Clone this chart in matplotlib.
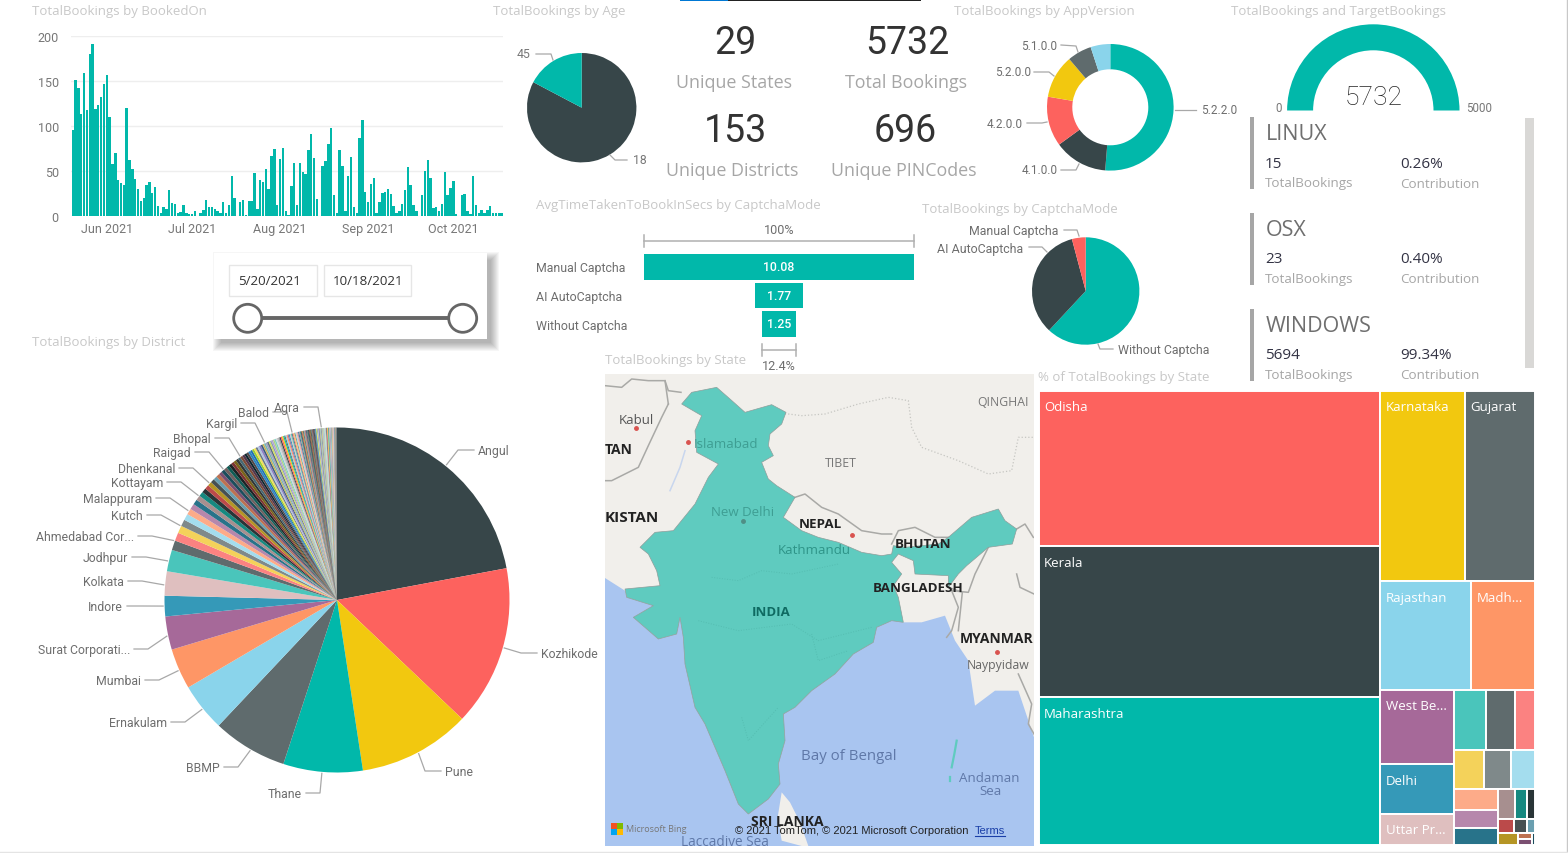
import numpy as np
import pandas as pd
import matplotlib
matplotlib.use("Agg")
import matplotlib.pyplot as plt
from matplotlib.patches import Rectangle, Circle, Wedge

W, H = 1568, 854
TEAL, DARK, CORAL, YELLOW, GREY = "#01B8AA", "#374649", "#FD625E", "#F2C80F", "#5F6B6D"
LBLUE, ORANGE, PURPLE, BLUE, PINK = "#8AD4EB", "#FE9666", "#A66999", "#3599B8", "#DFBFBF"

# daily bookings 20 May - 18 Oct 2021
daily_bookings = [95, 151, 142, 113, 158, 118, 179, 191, 119, 123,
                  132, 146, 156, 110, 58, 70, 40, 37, 34, 120,
                  62, 52, 41, 30, 17, 20, 35, 38, 26, 32,
                  11, 3, 10, 8, 29, 15, 14, 3, 5, 12,
                  3, 2, 2, 6, 0, 3, 7, 18, 10, 10,
                  8, 6, 3, 16, 4, 12, 44, 20, 0, 16,
                  18, 1, 17, 17, 48, 8, 40, 38, 52, 30,
                  67, 74, 12, 63, 76, 6, 1, 33, 59, 12,
                  59, 49, 47, 73, 91, 64, 19, 0, 56, 61,
                  80, 98, 24, 4, 73, 56, 6, 44, 66, 10,
                  4, 86, 107, 27, 16, 36, 42, 4, 16, 26,
                  27, 30, 25, 11, 4, 6, 14, 29, 54, 34,
                  12, 6, 0, 24, 50, 62, 42, 9, 10, 6,
                  14, 49, 23, 31, 39, 2, 0, 24, 25, 6,
                  2, 45, 12, 3, 7, 3, 7, 11, 4, 3,
                  3, 3]
bar_ticks = [0, 50, 100, 150, 200]

age_labels = ["18", "45"]
age_values = [4742, 990]

app_versions = ["5.2.2.0", "4.1.0.0", "4.2.0.0", "5.2.0.0", "5.1.0.0", "other"]
app_values = [2940, 785, 728, 636, 355, 288]

captcha_modes = ["Manual Captcha", "AI AutoCaptcha", "Without Captcha"]
captcha_secs = [10.08, 1.77, 1.25]
captcha_pie_values = [3550, 1945, 237]  # without, ai, manual

kpi_values = ["29", "5732", "153", "696"]
kpi_names = ["Unique States", "Total Bookings", "Unique Districts", "Unique PINCodes"]

os_names = ["LINUX", "OSX", "WINDOWS"]
os_bookings = ["15", "23", "5694"]
os_contrib = ["0.26%", "0.40%", "99.34%"]

gauge_value = 5732
gauge_max = 5000

district_head = [1260, 860, 600, 425, 400, 258, 218, 178, 110, 130, 115]
district_tail = [52, 44, 40, 36, 34, 32, 30, 28, 26, 25, 24, 23, 22, 21, 20, 19, 18, 18, 17, 16,
                 16, 15, 15, 14, 14, 13, 13, 12, 12, 12, 11, 11, 11, 10, 10, 10, 10, 9, 9, 9,
                 9, 8, 8, 8, 8, 8, 7, 7, 7, 7, 7, 7, 6, 6, 6, 6, 6, 6, 6, 5,
                 5, 5, 5, 5, 5, 5, 5, 5, 5,
                 4, 4, 4, 4, 4, 4, 4, 4, 4, 4, 4, 4, 4, 4, 4, 4, 4, 4, 4, 4,
                 3, 3, 3, 3, 3, 3, 3, 3, 3, 3, 3, 3, 3, 3, 3, 3, 3, 3, 3, 3, 3, 3, 3, 3, 3,
                 2, 2, 2, 2, 2, 2, 2, 2, 2, 2, 2, 2, 2, 2, 2,
                 1, 1, 1, 1, 1, 1, 1, 1, 1, 1, 1, 1]
district_colors = [DARK, CORAL, YELLOW, TEAL, GREY, LBLUE, ORANGE, PURPLE, BLUE, PINK,
                   "#4AC5BB", "#5F6B6D", "#FB8281", "#F4D25A", "#7F898A", "#A4DDEE", "#FDAB89", "#B687AC",
                   "#28738A", "#A78F8F", "#168980", "#293537", "#BB4A4A", "#B59525", "#475052", "#6A9FB0",
                   "#BD7150", "#7B4F71", "#1B4D5C", "#706060", "#0F5C55", "#1C2325", "#7D3231", "#796419",
                   "#303637", "#476A75", "#7E4B36", "#52354C", "#0D262E", "#544848",
                   "#2E86C1", "#1F6FB5", "#9ACD32", "#F1E05A", "#6C7A89", "#B0C4DE", "#8E7CC3", "#3D5A80",
                   "#C9B458", "#76B7B2", "#A0A0C0", "#5D6D7E", "#D4E157", "#90A4AE", "#B39DDB", "#AED581",
                   "#80CBC4", "#CFD8DC", "#BDBDBD", "#9E9E9E"]

# label, text edge x, text y, angle clockwise from top where the leader hits the pie
district_labels = ["Angul", "Kozhikode", "Pune", "Thane", "BBMP", "Ernakulam", "Mumbai", "Surat Corporati...",
                   "Indore", "Kolkata", "Jodhpur", "Ahmedabad Cor...", "Kutch", "Malappuram", "Kottayam",
                   "Dhenkanal", "Raigad", "Bhopal", "Kargil", "Balod", "Agra"]
label_edge_x = [478, 541, 445, 302, 220, 167, 141, 130, 123, 124, 128, 134, 143, 152, 163, 175, 191, 211, 237, 269, 300]
label_y = [450, 653, 771, 793, 767, 722, 680, 649, 606, 581, 557, 536, 515, 498, 482, 468, 452, 438, 423, 412, 407]
label_deg = [39, 106, 152, 185, 210, 231, 246, 258, 268, 275, 283, 290, 295.4, 301, 307, 312.5, 319, 326, 335.3, 345, 354.8]

state_names = ["Odisha", "Kerala", "Maharashtra", "Karnataka", "Gujarat", "Rajasthan", "Madh...",
               "West Be...", "Delhi", "Uttar Pr..."]
state_values = [1351, 1307, 1280, 412, 338, 250, 176, 141, 93, 59,
                49, 43, 31, 30, 27, 24, 23, 19, 19, 13, 9, 6, 6, 5, 3, 6, 2, 2, 1]
state_colors = [CORAL, DARK, TEAL, YELLOW, GREY, LBLUE, ORANGE, PURPLE, BLUE, PINK,
                "#4AC5BB", "#5F6B6D", "#FB8281", "#F4D25A", "#7F898A", "#A4DDEE", "#FDAB89", "#B687AC",
                "#28738A", "#A78F8F", "#168980", "#293537", "#BB4A4A", "#475052", "#6A9FB0", "#B59525",
                "#BD7150", "#7B4F71", "#1B4D5C"]
# h = side by side, v = stacked
state_tree = ("h", [("v", [0, 1, 2]),
                    ("v", [("h", [3, 4]),
                           ("h", [5, 6]),
                           ("h", [("v", [7, 8, 9]),
                                  ("v", [("h", [10, 11, 12]),
                                         ("h", [13, 14, 15]),
                                         ("h", [("v", [16, 17, 18]),
                                                ("v", [("h", [19, 20, 21]),
                                                       ("h", [22, 23, 24]),
                                                       ("h", [25, ("v", [26, 27]), 28])])])])])])])

# map outlines, in map units (1/3 px)
india_x = [335, 375, 420, 500, 543, 530, 495, 490, 505, 470, 490, 515, 570, 535, 590, 640, 700, 770, 830, 860, 865, 900,
           1000, 1030, 1100, 1180, 1200, 1235, 1222, 1150, 1085, 1060, 1030, 1030, 930, 925, 880, 860, 890, 865, 880,
           895, 860, 815, 805, 745, 690, 620, 570, 535, 540, 520, 525, 490, 430, 400, 360, 300, 270, 240, 235, 225,
           215, 160, 85, 145, 65, 60, 165, 155, 130, 105, 150, 205, 270, 310, 340, 275, 270, 290, 230, 260]
india_y = [40, 75, 115, 92, 115, 150, 180, 215, 245, 265, 315, 335, 370, 430, 470, 490, 505, 535, 545, 540, 515, 520,
           510, 490, 430, 405, 440, 465, 510, 520, 575, 600, 640, 605, 600, 560, 540, 565, 600, 635, 670,
           745, 740, 760, 805, 840, 900, 950, 1000, 1020, 1100, 1170, 1230, 1275, 1320, 1290, 1190, 1050, 1000, 870, 790, 730,
           780, 795, 730, 695, 670, 645, 635, 590, 540, 520, 475, 470, 390, 310, 270, 235, 170, 125, 90, 55]
sea_x = [0, 0, 60, 65, 145, 85, 160, 215, 225, 235, 240, 270, 300, 360, 400, 430, 490, 525, 520, 540, 535, 570, 620, 690,
         745, 805, 815, 860, 895, 950, 1020, 1050, 1090, 1110, 1170, 1240, 1287, 1287]
sea_y = [1416, 612, 650, 670, 695, 730, 795, 780, 730, 790, 870, 1000, 1050, 1190, 1290, 1320, 1275, 1230, 1170, 1100, 1020, 1000,
         950, 900, 840, 805, 760, 740, 745, 745, 725, 800, 860, 995, 950, 950, 1090, 1416]
lanka_x = [530, 555, 585, 610, 590, 530, 518]
lanka_y = [1255, 1285, 1345, 1416, 1416, 1400, 1330]
map_borders_x = [[0, 50, 80, 130, 180, 190, 228], [190, 170, 130, 100, 20, 0], [180, 190], [570, 600, 650, 700, 770, 830, 860],
                 [860, 880, 930, 990, 1040], [1235, 1260, 1285], [1150, 1110, 1090, 1040, 1060, 1040, 1025],
                 [1235, 1245, 1287], [1240, 1280, 1270, 1287], [1030, 1072, 1060]]
map_borders_y = [[35, 40, 15, 20, 20, 50, 55], [90, 130, 215, 280, 320, 320], [20, 90], [370, 360, 400, 420, 470, 480, 480],
                 [510, 470, 460, 490, 490], [465, 450, 490], [520, 600, 655, 650, 700, 770, 790],
                 [600, 640, 660], [900, 990, 1050, 1080], [640, 655, 770]]
china_x = [510, 590, 660, 760, 850, 910, 920, 950, 1060, 1150, 1220, 1240, 1287]
china_y = [115, 125, 120, 90, 70, 80, 160, 220, 260, 300, 290, 190, 190]
state_lines_x = [[320, 400, 470, 560, 700], [280, 400, 560, 640, 800], [410, 430, 520], [620, 640, 730]]
state_lines_y = [[610, 620, 590, 600, 570], [740, 770, 750, 800, 760], [1030, 1100, 1000], [780, 860, 830]]

plt.rcParams["font.family"] = ["Open Sans", "DejaVu Sans"]
DIN = ["Roboto", "DejaVu Sans"]

fig = plt.figure(figsize=(W / 100, H / 100), dpi=100, facecolor="white")


def px_axes(x0, y0, x1, y1, z=1):
    a = fig.add_axes([x0 / W, 1 - y1 / H, (x1 - x0) / W, (y1 - y0) / H], zorder=z)
    return a


def pie_axes(cx, cy, r):
    a = px_axes(cx - r, cy - r, cx + r, cy + r)
    a.axis("off")
    return a


def draw_pie(cx, cy, r, values, colors, width=None, start=90):
    a = pie_axes(cx, cy, r)
    props = {"linewidth": 0}
    if width:
        props["width"] = width
    a.pie(values, colors=colors, startangle=start, counterclock=False, radius=1, wedgeprops=props)
    a.set_xlim(-1, 1)
    a.set_ylim(-1, 1)
    return a


# overlay in pixel coordinates for all the titles, leaders and cards
ov = fig.add_axes([0, 0, 1, 1], zorder=5)
ov.set_xlim(0, W)
ov.set_ylim(H - 1, -1)
ov.axis("off")
ov.patch.set_alpha(0)

TITLE = "#C8C8C8"
LAB = "#6E6E6E"


def T(x, y, s, size=9, color=LAB, ha="left", **kw):
    return ov.text(x, y + 1, s, fontsize=size, color=color, ha=ha, va="center", **kw)


def leader(pts):
    xs, ys = zip(*pts)
    ov.plot(xs, ys, color="#A8A8A8", lw=0.9, solid_joinstyle="round")


# page bits
ov.add_patch(Rectangle((680, -1), 48, 2.2, color="#0078D4", lw=0))
ov.add_patch(Rectangle((728, -1), 193, 2.2, color="#222222", lw=0))
ov.plot([1567.3, 1567.3], [0, 854], color="#C8C8C8", lw=1)
ov.plot([0, 1568], [851.5, 851.5], color="#E4E4E4", lw=1)

# titles
T(32, 10, "TotalBookings by BookedOn", 9.5, TITLE)
T(493, 10, "TotalBookings by Age", 9.5, TITLE)
T(954, 10, "TotalBookings by AppVersion", 9.5, TITLE)
T(1231, 10, "TotalBookings and TargetBookings", 9.5, TITLE)
T(536, 204, "AvgTimeTakenToBookInSecs by CaptchaMode", 9.5, TITLE)
T(922, 207, "TotalBookings by CaptchaMode", 9.5, TITLE)
T(32, 341, "TotalBookings by District", 9.5, TITLE)
T(605, 359, "TotalBookings by State", 9.5, TITLE)
T(1038, 376, "% of TotalBookings by State", 9.5, TITLE)

# daily bars
ax = px_axes(71.3, 36.5, 503, 217.2)
days = pd.date_range("2021-05-20", periods=len(daily_bookings))
xs = np.arange(len(daily_bookings))
ax.bar(xs, daily_bookings, width=0.85, color=TEAL, linewidth=0, zorder=3)
ax.set_xlim(-0.5, len(daily_bookings) - 0.5)
ax.set_ylim(0, 200)
month_idx = [i for i, d in enumerate(days) if d.day == 1]
ax.set_xticks(month_idx)
ax.set_xticklabels([days[i].strftime("%b %Y") for i in month_idx], fontsize=9, color="#777777", family=DIN)
ax.set_yticks(bar_ticks)
ax.set_yticklabels(bar_ticks, fontsize=9, color="#777777", family=DIN)
ax.tick_params(length=0, pad=9, axis="y")
ax.tick_params(length=0, pad=4, axis="x")
ax.grid(axis="y", color="#EEEEEE", lw=1, zorder=0)
for s in ax.spines.values():
    s.set_visible(False)

# slicer card, soft shadow from stacked rectangles
for i in range(9):
    ov.add_patch(Rectangle((221 - i, 260 - i), 270 + 2 * i, 83 + 2 * i,
                           color="#000000", alpha=0.035, lw=0, zorder=1))
ov.add_patch(Rectangle((214, 253), 273, 86, color="white", lw=0, zorder=2))
for x0, w, s in [(229.3, 87.4, "5/20/2021"), (324.3, 86.4, "10/18/2021")]:
    ov.add_patch(Rectangle((x0, 265), w, 30.5, fc="white", ec="#E6E6E6", lw=1, zorder=3))
    T(x0 + 9, 280, s, 9.6, "#333333", zorder=4)
ov.plot([262, 448], [318.3, 318.3], color="#666666", lw=2.8, zorder=3)
for cx in [247.7, 462.7]:
    ov.add_patch(Circle((cx, 318.3), 14, fc="white", ec="#666666", lw=2, zorder=4))

# age pie
draw_pie(581.7, 108.7, 54.7, age_values, [DARK, TEAL])
T(517, 53, age_labels[1], 8.8, "#777777", family=DIN)
leader([(536, 54), (551, 54), (553, 60)])
T(633, 159, age_labels[0], 8.8, "#777777", family=DIN)
leader([(627, 160), (615, 160), (610, 155)])

# KPI cards
kpi_x = [735, 907, 735, 905]
kpi_num_y = [42, 42, 130, 130]
kpi_lab_y = [81, 81, 169, 169]
for x, yn, yl, v, n in zip(kpi_x, kpi_num_y, kpi_lab_y, kpi_values, kpi_names):
    T(x, yn, v, 27, "#333333", ha="center", family=DIN)
    T(x - 1 if n != "Unique Districts" else x - 3, yl, n, 12.9, "#A6A6A6", ha="center")

# app version donut
draw_pie(1110.3, 108.3, 63.3, app_values, [TEAL, DARK, CORAL, YELLOW, GREY, LBLUE], width=25.3 / 63.3)
T(1021, 44, "5.1.0.0", 8.5, LAB, family=DIN)
leader([(1061, 45), (1076, 46), (1078, 52)])
T(995, 71, "5.2.0.0", 8.5, LAB, family=DIN)
leader([(1034, 72), (1049, 72), (1054, 76)])
T(987, 122, "4.2.0.0", 8.5, LAB, family=DIN)
leader([(1027, 123), (1042, 123), (1047, 122)])
T(1022, 169, "4.1.0.0", 8.5, LAB, family=DIN)
leader([(1061, 170), (1076, 170), (1079, 164)])
T(1201, 109, "5.2.2.0", 8.5, LAB, family=DIN)
leader([(1175, 110), (1196, 110)])

# gauge
ga = px_axes(1373.3 - 86.2, 25.3, 1373.3 + 86.2, 111.5)
ga.axis("off")
ga.set_xlim(-1, 1)
ga.set_ylim(0, 1)
gauge_shown = min(gauge_value / gauge_max, 1) * 180
ga.add_patch(Wedge((0, 0), 1, 180 - gauge_shown, 180, width=26 / 86.2, color=TEAL, lw=0))
T(1373.3, 96, str(gauge_value), 19, "#222222", ha="center", family=DIN, fontweight="light")
T(1278.7, 106, "0", 8.3, "#777777", ha="center", family=DIN)
T(1478.7, 106, str(gauge_max), 8.3, "#777777", ha="center", family=DIN)

# OS cards
ov.add_patch(Rectangle((1525, 117.5), 9, 250, color="#D9D8D6", lw=0))
for name, b, c, y0 in zip(os_names, os_bookings, os_contrib, [117, 213, 309]):
    ov.add_patch(Rectangle((1250, y0), 4, 72, color="#A6A6A6", lw=0))
    T(1266, y0 + 15.5, name, 15.5, "#6F6F6F")
    T(1265, y0 + 45, b, 11, "#333344")
    T(1400, y0 + 45, c, 11, "#333344")
    T(1265, y0 + 65, "TotalBookings", 9.6, "#A6A6A6")
    T(1400, y0 + 65, "Contribution", 9.6, "#A6A6A6")

# captcha funnel
fa = px_axes(644, 255, 914.3, 342)
fa.axis("off")
fa.set_xlim(-captcha_secs[0] / 2, captcha_secs[0] / 2)
fa.set_ylim(2.6, -0.45)
fa.barh(range(3), captcha_secs, left=[-v / 2 for v in captcha_secs], height=0.9, color=TEAL, linewidth=0)
for i, (m, v) in enumerate(zip(captcha_modes, captcha_secs)):
    fa.text(0, i, f"{v:.2f}", color="white", ha="center", va="center", fontsize=8.8, family=DIN, fontweight="medium")
    T(536, [267, 296, 325][i], m, 8.9, LAB, family=DIN)
for x0, x1, y, s, ty in [(644, 914.3, 240.7, "100%", 228), (762.3, 796, 350, "12.4%", 365)]:
    ov.plot([x0, x1], [y, y], color="#B0B0B0", lw=1.1)
    ov.plot([x0, x0], [y - 6, y + 6], color="#B0B0B0", lw=1.1)
    ov.plot([x1, x1], [y - 6, y + 6], color="#B0B0B0", lw=1.1)
    T((x0 + x1) / 2, ty, s, 9.1, LAB, ha="center", family=DIN)

# captcha pie
draw_pie(1085.7, 292, 53.7, captcha_pie_values, [TEAL, DARK, CORAL])
T(1058.5, 230, captcha_modes[0], 8.9, LAB, ha="right", family=DIN)
leader([(1064, 230), (1077, 230), (1079, 236)])
T(1023.5, 247, captcha_modes[1], 8.9, LAB, ha="right", family=DIN)
leader([(1029, 247), (1042, 247), (1047, 252)])
T(1118, 349, captcha_modes[2], 8.9, LAB, family=DIN)
leader([(1098, 344), (1100, 349), (1113, 349)])

# district pie
dist_vals = district_head + district_tail
dist_cols = [district_colors[i % len(district_colors)] for i in range(len(dist_vals))]
draw_pie(337, 601, 172.5, dist_vals, dist_cols)
for name, ex, ly, deg in zip(district_labels, label_edge_x, label_y, label_deg):
    th = np.deg2rad(deg)
    px, py = 337 + 174 * np.sin(th), 600 - 174 * np.cos(th)
    if px > 337 and deg < 180:
        T(ex, ly, name, 8.8, LAB, family=DIN)
        leader([(px, py), (ex - 20, ly), (ex - 4, ly)])
    else:
        T(ex, ly, name, 8.8, LAB, ha="right", family=DIN)
        leader([(px, py), (ex + 18, ly), (ex + 4, ly)])

# map
ma = px_axes(605, 375, 1034, 847, z=2)
ma.set_xlim(0, 1287)
ma.set_ylim(1416, 0)
ma.set_xticks([])
ma.set_yticks([])
ma.set_facecolor("#F1EFEB")
for s in ma.spines.values():
    s.set_visible(False)
ma.fill(sea_x, sea_y, color="#A9C5F0", lw=0, zorder=1)
ma.fill(lanka_x, lanka_y, color="#F1EFEB", lw=0, zorder=2)
for bx, by in zip(map_borders_x, map_borders_y):
    ma.plot(bx, by, color="#A9A9A6", lw=1.1, zorder=2)
ma.plot(china_x, china_y, color="#C6C6C2", lw=0.9, ls=":", zorder=2)
ma.plot([240, 225, 195], [230, 280, 350], color="#C8D6EE", lw=1.1, zorder=2)
ma.fill(india_x, india_y, fc="#5FCBBF", ec="#8E9E9B", lw=0.5, zorder=3)
for bx, by in zip(state_lines_x, state_lines_y):
    ma.plot(bx, by, color="#55BDB1", lw=0.7, ls=":", zorder=3)
ma.plot([1055, 1048, 1040], [1100, 1140, 1180], color="#5FCBBF", lw=1.6, zorder=3)
ma.plot([1035, 1035], [1210, 1222], color="#5FCBBF", lw=1.6, zorder=3)
map_texts = [(94, 137, "Kabul", 9.5, "#555555", "normal"), (40, 224, "TAN", 10, "#222222", "bold"),
             (80, 430, "KISTAN", 11, "#222222", "bold"), (362, 208, "Islamabad", 9.5, "#3E9E93", "normal"),
             (412, 413, "New Delhi", 9.5, "#3E9E93", "normal"), (645, 450, "NEPAL", 9.6, "#222222", "bold"),
             (628, 527, "Kathmandu", 9.5, "#2E9488", "normal"), (955, 507, "BHUTAN", 9.6, "#222222", "bold"),
             (938, 641, "BANGLADESH", 9.6, "#222222", "bold"), (497, 712, "INDIA", 9.5, "#0F6B62", "bold"),
             (1175, 792, "MYANMAR", 10, "#222222", "bold"), (1178, 873, "Naypyidaw", 8.8, "#666666", "normal"),
             (708, 266, "TIBET", 8.8, "#777777", "normal"), (1195, 82, "QINGHAI", 8.8, "#777777", "normal"),
             (732, 1145, "Bay of Bengal", 10.8, "#5F78A8", "normal"), (1153, 1210, "Andaman", 9.6, "#5F78A8", "normal"),
             (1155, 1249, "Sea", 9.6, "#5F78A8", "normal"), (548, 1340, "SRI LANKA", 10, "#222222", "bold"),
             (360, 1402, "Laccadive Sea", 9.8, "#5F78A8", "normal")]
for x, y, s, fs, c, fw in map_texts:
    ma.text(x, y, s, fontsize=fs, color=c, fontweight=fw, ha="center", va="center", zorder=5, clip_on=True)
for x, y in [(92, 163), (248, 203), (740, 483), (1177, 833)]:
    ma.plot(x, y, "o", color="#D9534F", ms=2.5, zorder=5)
ma.plot(415, 440, "o", color="#4F8F86", ms=2.5, zorder=5)
for x, y, c in [(18, 1347, "#F25022"), (36, 1347, "#7FBA00"), (18, 1365, "#00A4EF"), (36, 1365, "#FFB900")]:
    ma.add_patch(Rectangle((x, y), 17, 17, color=c, lw=0, zorder=5))
ma.text(62, 1365, "Microsoft Bing", fontsize=6.5, color="#777777", va="center", zorder=5)
ma.text(390, 1368, "\u00a9 2021 TomTom, \u00a9 2021 Microsoft Corporation", fontsize=8, color="#222222",
        family="Liberation Sans", va="center", zorder=5)
ma.text(1110, 1368, "Terms", fontsize=8, color="#1A3FA8", family="Liberation Sans", va="center", zorder=5)
ma.plot([1110, 1200], [1387, 1387], color="#1A3FA8", lw=0.8, zorder=5)

# treemap
ta = px_axes(1038.5, 391.5, 1535, 846, z=2)
ta.axis("off")
ta.set_xlim(0, 1)
ta.set_ylim(1, 0)


def node_total(node):
    if isinstance(node, int):
        return state_values[node]
    return sum(node_total(c) for c in node[1])


def draw_tree(node, x, y, w, h):
    if isinstance(node, int):
        ta.add_patch(Rectangle((x, y), w, h, fc=state_colors[node], ec="white", lw=1.4))
        if node < len(state_names):
            ta.text(x + 5.5 / 495, y + 16 / 453, state_names[node], color="white", fontsize=9.5, va="center")
        return
    total = node_total(node)
    for c in node[1]:
        f = node_total(c) / total
        if node[0] == "h":
            draw_tree(c, x, y, w * f, h)
            x += w * f
        else:
            draw_tree(c, x, y, w, h * f)
            y += h * f


draw_tree(state_tree, 0, 0, 1, 1)

fig.savefig("out.png", dpi=100)
